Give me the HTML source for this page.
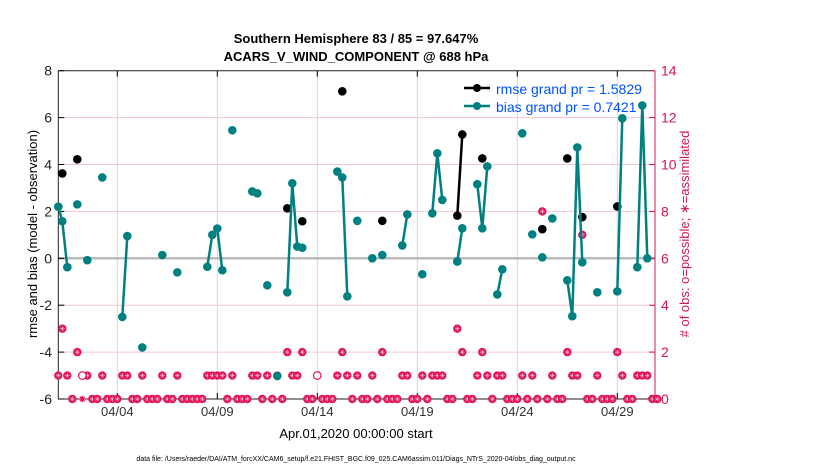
<!DOCTYPE html>
<html><head><meta charset="utf-8">
<style>
body{margin:0;background:#fff;}
svg{display:block;font-family:"Liberation Sans",sans-serif;}
</style></head>
<body>
<svg id="chart" width="830" height="470" viewBox="0 0 830 470" xmlns="http://www.w3.org/2000/svg">
<rect width="830" height="470" fill="#fff"/>
<text x="356" y="43" font-size="13" font-weight="bold" text-anchor="middle">Southern Hemisphere 83 / 85 = 97.647%</text>
<text x="356" y="61" font-size="13" font-weight="bold" text-anchor="middle">ACARS_V_WIND_COMPONENT @ 688 hPa</text>
<g id="grid"></g>
<g id="axes"></g>
<g id="legend">
  <line x1="464" y1="88" x2="490" y2="88" stroke="#000" stroke-width="2.5"/>
  <circle cx="477" cy="88" r="4" fill="#000"/>
  <text x="496" y="94" font-size="14" fill="#0050ff">rmse grand pr = 1.5829</text>
  <line x1="464" y1="106" x2="490" y2="106" stroke="#008080" stroke-width="2.5"/>
  <circle cx="477" cy="106" r="4" fill="#008080"/>
  <text x="496" y="112" font-size="14" fill="#0050ff">bias grand pr = 0.7421</text>
</g>
<g id="marks"></g>
<text transform="translate(37,234) rotate(-90)" font-size="13" text-anchor="middle">rmse and bias (model - observation)</text>
<text transform="translate(689,234) rotate(-90)" font-size="13" text-anchor="middle" fill="#d4145a"># of obs: o=possible; &#8727;=assimilated</text>
<text x="356" y="438" font-size="13" text-anchor="middle">Apr.01,2020 00:00:00 start</text>
<text x="356" y="461" font-size="7" text-anchor="middle">data file: /Users/raeder/DAI/ATM_forcXX/CAM6_setup/f.e21.FHIST_BGC.f09_025.CAM6assim.011/Diags_NTrS_2020-04/obs_diag_output.nc</text>
</svg>
<script>
const xTickDays=[3,8,13,18,23,28];
const xTickLabels=["04/04","04/09","04/14","04/19","04/24","04/29"];
const yLeftTicks=[-6,-4,-2,0,2,4,6,8];
const yRightTicks=[0,2,4,6,8,10,12,14];
// bias segments (connected runs): day, value
const biasDays=[[0.05,0.25,0.5],[1.0],[1.5],[2.25],[3.25,3.5],[4.25],[5.25],[6.0],[7.5,7.75,8.0,8.25],[8.75],[9.75,10.0],[10.5],[11.0],[11.5,11.75,12.0,12.25],[14.0,14.25,14.5],[15.0],[15.75],[16.25],[17.25,17.5],[18.25],[18.75,19.0,19.25],[20.0,20.25],[21.0,21.25,21.5],[22.0,22.25],[23.25],[23.75],[24.25],[24.75],[25.5,25.75,26.0,26.25],[27.0],[28.0,28.25],[29.0,29.25,29.5]];
const biasVals=[[2.2,1.58,-0.38],[2.3],[-0.08],[3.45],[-2.5,0.95],[-3.8],[0.14],[-0.6],[-0.36,1.0,1.27,-0.51],[5.46],[2.85,2.77],[-1.15],[-5.02],[-1.45,3.2,0.5,0.45],[3.7,3.45,-1.62],[1.6],[0.0],[0.14],[0.55,1.87],[-0.68],[1.92,4.48,2.49],[-0.14,1.28],[3.16,1.28,3.92],[-1.54,-0.47],[5.33],[1.02],[0.04],[1.7],[-0.94,-2.47,4.73,-0.17],[-1.45],[-1.41,5.97],[-0.38,6.52,0.0]];
const rmseDays=[[0.25],[1.0],[11.5],[12.25],[14.25],[16.25],[20.0,20.25],[21.25],[24.25],[25.5],[26.25],[28.0]];
const rmseVals=[[3.62],[4.22],[2.13],[1.58],[7.12],[1.6],[1.82,5.28],[4.26],[1.24],[4.26],[1.76],[2.21]];
// obs counts
const obsDays=[0.05,0.5,1.5,2.25,3.25,3.5,4.25,5.25,6.0,7.5,7.75,8.0,8.25,8.75,9.75,10.0,10.5,11.0,11.75,12.0,14.0,14.5,15.0,15.75,17.25,17.5,18.25,18.75,19.0,19.25,21.0,21.5,22.0,22.25,23.25,23.75,24.75,25.75,26.0,27.0,28.25,29.0,29.25,29.5,
1.0,11.5,12.25,14.25,16.25,20.25,21.25,25.5,28.0,
0.25,20.0,24.25,26.25,
0.75,1.75,2.0,2.5,2.75,3.0,3.75,4.0,4.5,4.75,5.0,5.5,5.75,6.25,6.5,6.75,7.0,7.25,8.5,9.0,9.25,9.5,10.25,10.75,11.25,12.5,12.75,13.25,13.5,13.75,14.75,15.25,15.5,16.0,16.5,16.75,17.0,17.75,18.0,18.5,19.5,19.75,20.5,20.75,21.75,22.5,22.75,23.0,23.5,24.0,24.5,25.0,25.25,26.5,26.75,27.25,27.5,27.75,28.5,28.75,29.75,30.0];
const obsCounts=[1,1,1,1,1,1,1,1,1,1,1,1,1,1,1,1,1,1,1,1,1,1,1,1,1,1,1,1,1,1,1,1,1,1,1,1,1,1,1,1,1,1,1,1,
2,2,2,2,2,2,2,2,2,
3,3,8,7,
0,0,0,0,0,0,0,0,0,0,0,0,0,0,0,0,0,0,0,0,0,0,0,0,0,0,0,0,0,0,0,0,0,0,0,0,0,0,0,0,0,0,0,0,0,0,0,0,0,0,0,0,0,0,0,0,0,0,0,0,0,0];
const possibleOnlyDays=[1.25,13.0];
const possibleOnlyCounts=[1,1];
const assimOnlyDays=[1.25];
const assimOnlyCounts=[0];

const L=58.3,R=655,T=70.7,B=399;
const X=d=>117.3+(d-3)*20;
const Y=v=>T+(8-v)*(B-T)/14;
const YR=c=>B-c*(B-T)/14;
const NS="http://www.w3.org/2000/svg";
function mk(parent,tag,attrs){const e=document.createElementNS(NS,tag);for(const k in attrs)e.setAttribute(k,attrs[k]);parent.appendChild(e);return e;}
const grid=document.getElementById('grid'),axes=document.getElementById('axes'),marks=document.getElementById('marks');
yRightTicks.forEach(c=>{if(c>0&&c<14){const l=mk(grid,'line',{x1:L,x2:R,y1:YR(c),y2:YR(c),stroke:'#f3c6d6','stroke-width':1});

}});
xTickDays.forEach((d,i)=>{const l=mk(grid,'line',{x1:X(d),x2:X(d),y1:T,y2:B,stroke:'#d8d8d8','stroke-width':1});


const t=mk(axes,'line',{x1:X(d),x2:X(d),y1:B,y2:B-6,stroke:'#000'});


const t2=mk(axes,'line',{x1:X(d),x2:X(d),y1:T,y2:T+6,stroke:'#000'});


const tx=mk(axes,'text',{x:X(d),y:B+17,'font-size':13,'text-anchor':'middle',fill:'#333'});tx.textContent=xTickLabels[i];

});
const z=mk(grid,'line',{x1:L,x2:R,y1:Y(0),y2:Y(0),stroke:'#bbb','stroke-width':2.5});


const ax=mk(axes,'path',{d:`M${L} ${T}V${B}H${R}M${L} ${T}H${R}`,stroke:'#222',fill:'none','stroke-width':1});


const ra=mk(axes,'line',{x1:R,x2:R,y1:T,y2:B,stroke:'#d4145a','stroke-width':1});


yLeftTicks.forEach(v=>{const t=mk(axes,'line',{x1:L,x2:L+6,y1:Y(v),y2:Y(v),stroke:'#000'});


const tx=mk(axes,'text',{x:52,y:Y(v)+5,'font-size':14,'text-anchor':'end',fill:'#222'});tx.textContent=v;

});
yRightTicks.forEach(c=>{const t=mk(axes,'line',{x1:R,x2:R-6,y1:YR(c),y2:YR(c),stroke:'#d4145a'});


const tx=mk(axes,'text',{x:661,y:YR(c)+5,'font-size':14,fill:'#d4145a'});tx.textContent=c;

});
function star(cx,cy,r){const p=[];for(let k=0;k<4;k++){const a=k*Math.PI/4;p.push(`M${cx-r*Math.cos(a)} ${cy-r*Math.sin(a)}L${cx+r*Math.cos(a)} ${cy+r*Math.sin(a)}`);}return p.join('');}
obsDays.forEach((d,i)=>{const g=mk(marks,'g',{});


const cx=X(d),cy=YR(obsCounts[i]);mk(g,'circle',{cx,cy,r:4.2,fill:'#e0105a'});mk(g,'path',{d:star(cx,cy,2.6),stroke:'#fff','stroke-width':0.5,'stroke-opacity':0.8});});
possibleOnlyDays.forEach((d,i)=>{const c=mk(marks,'circle',{cx:X(d),cy:YR(possibleOnlyCounts[i]),r:3.8,fill:'#fff',stroke:'#e0105a','stroke-width':1.2});

});
assimOnlyDays.forEach((d,i)=>{const p=mk(marks,'path',{d:star(X(d),YR(assimOnlyCounts[i]),3.3),stroke:'#e0105a','stroke-width':1.3});

});
function series(days,vals,color,name){days.forEach((run,i)=>{if(run.length>1){const pl=mk(marks,'polyline',{points:run.map((d,j)=>X(d)+','+Y(vals[i][j])).join(' '),fill:'none',stroke:color,'stroke-width':2.5});

}
run.forEach((d,j)=>{const c=mk(marks,'circle',{cx:X(d),cy:Y(vals[i][j]),r:4.3,fill:color});

});});}
series(rmseDays,rmseVals,'#000','rmse');
series(biasDays,biasVals,'#008080','bias');
</script>
</body></html>
